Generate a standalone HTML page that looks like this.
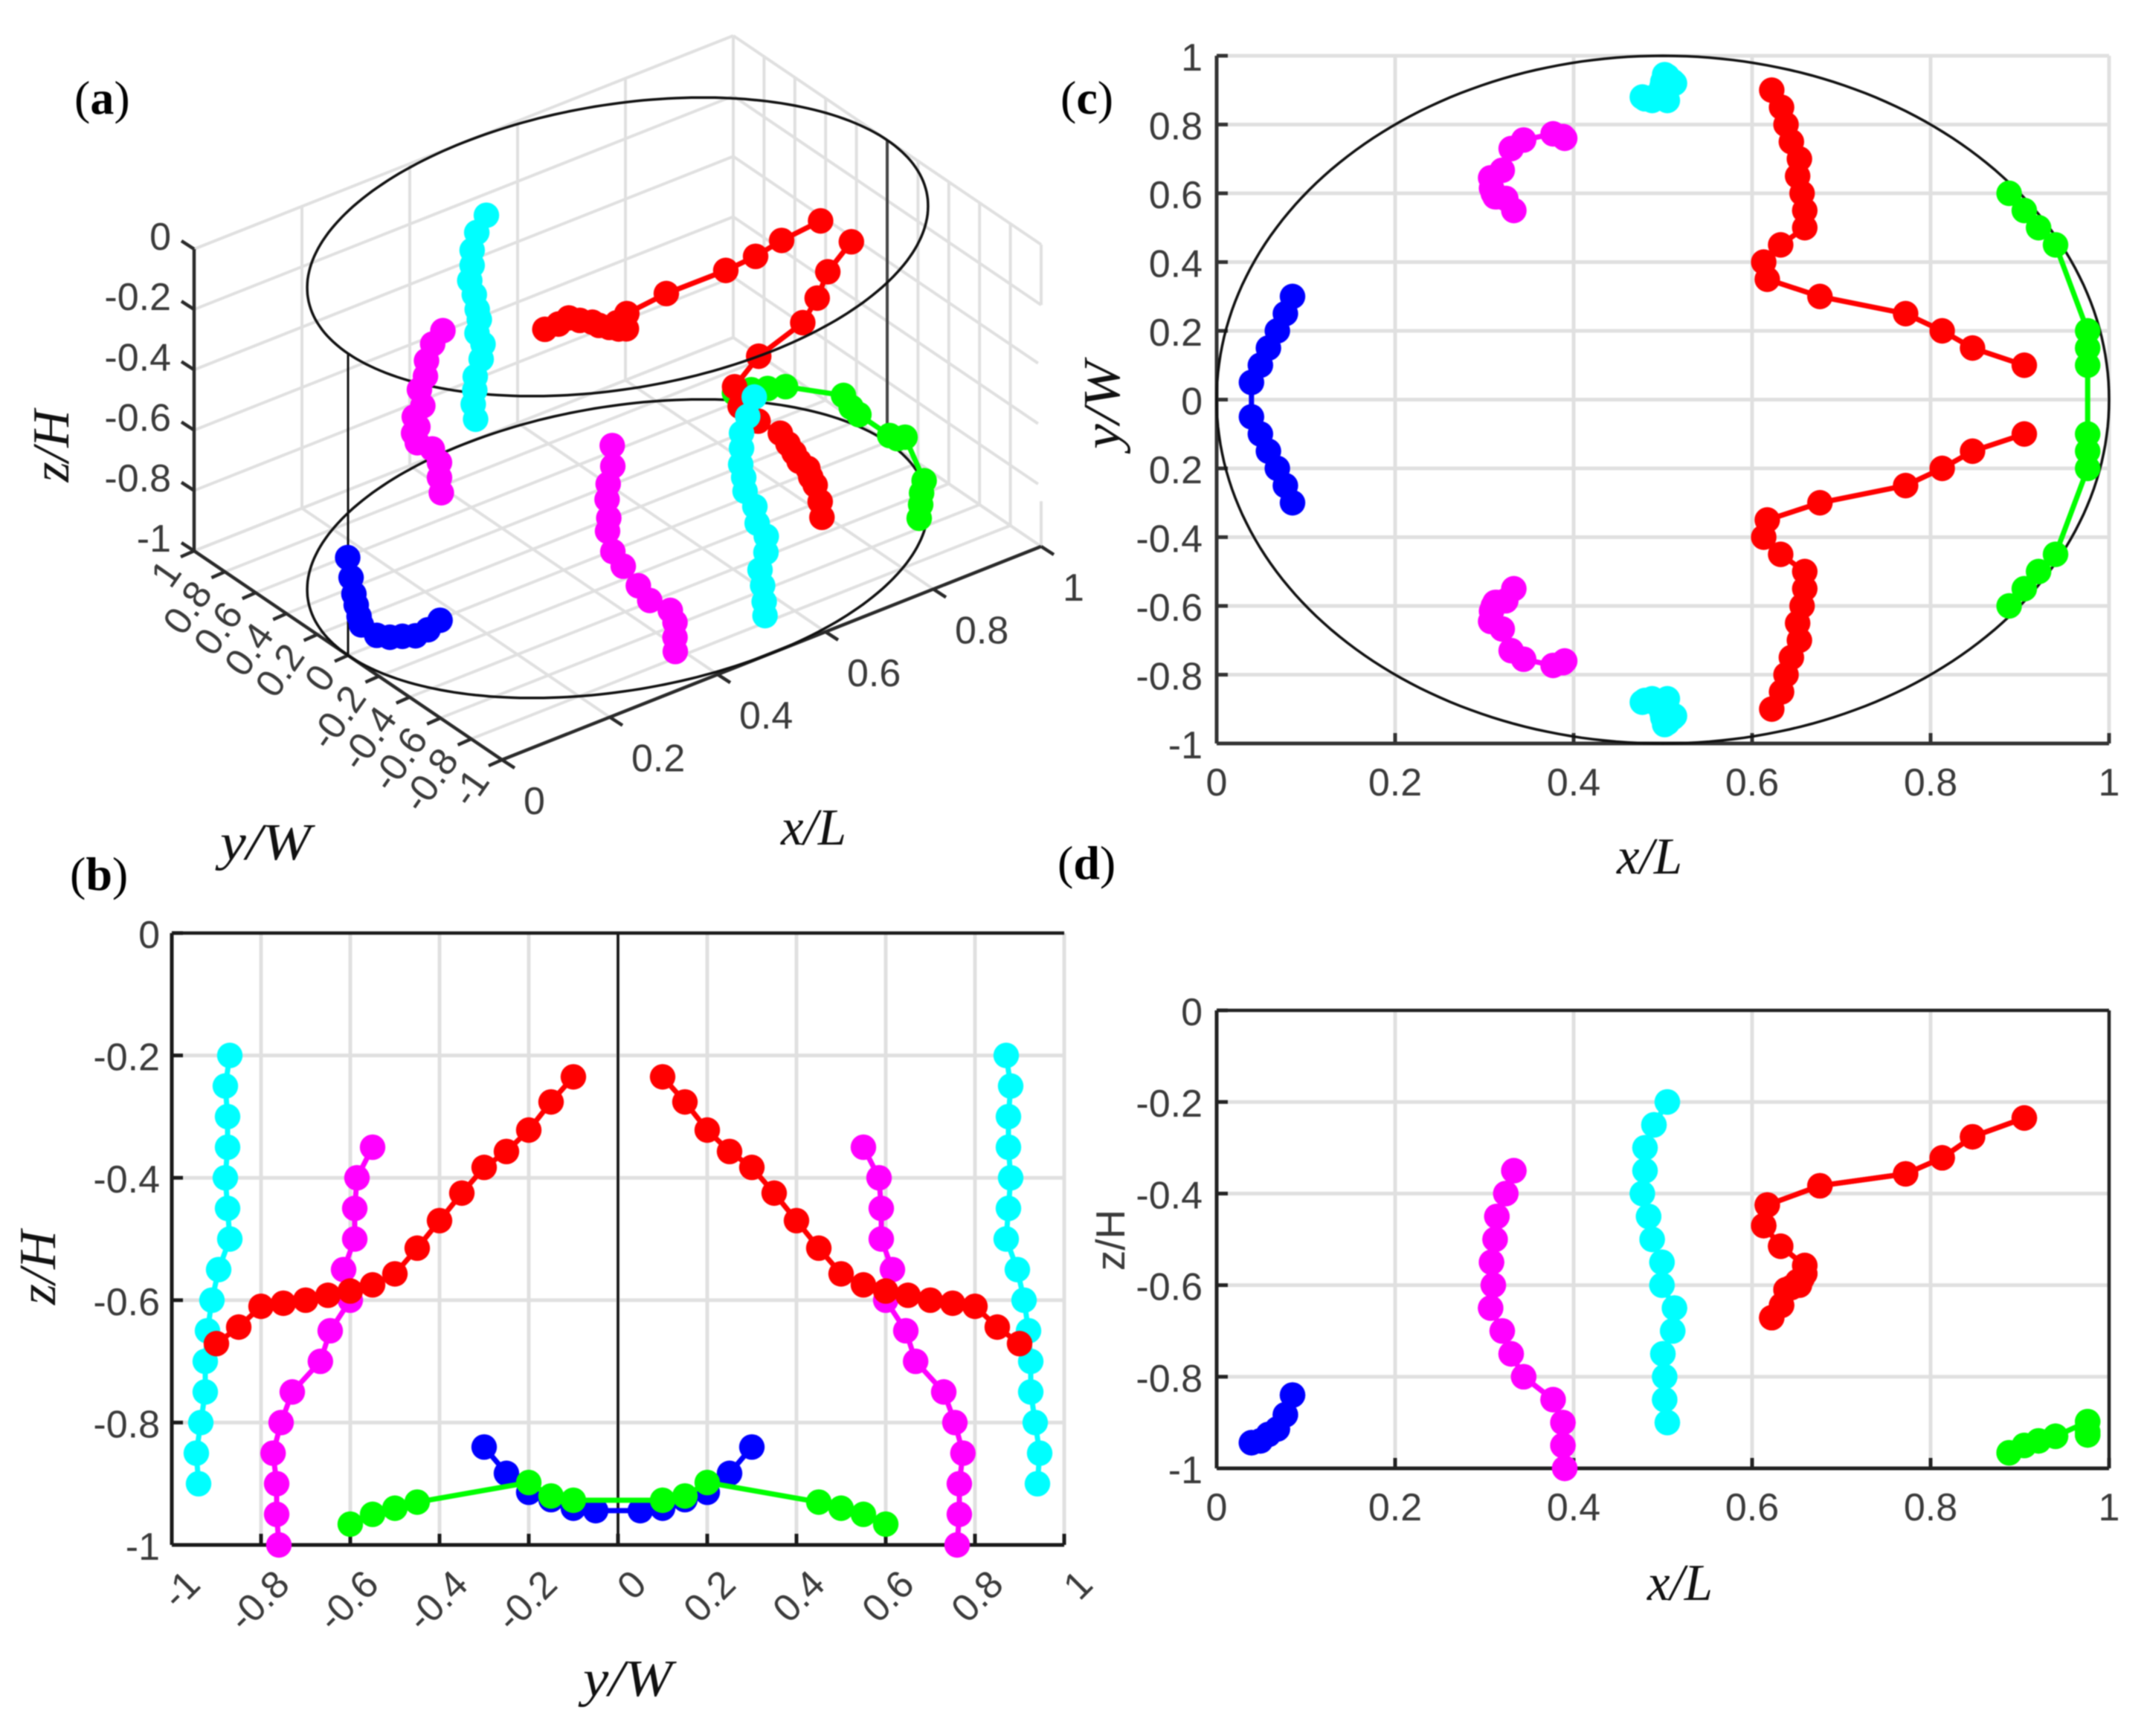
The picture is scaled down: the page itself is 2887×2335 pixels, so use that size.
<!DOCTYPE html>
<html lang="en">
<head>
<meta charset="utf-8">
<title>Particle positions in an elliptical tank</title>
<style>
html,body{margin:0;padding:0;background:#fff;width:2887px;height:2335px;overflow:hidden}
svg{display:block;filter:blur(0.9px)}
.tick{font-family:"Liberation Sans",sans-serif;font-size:52px;fill:#3a3a3a}
.axlab{font-family:"Liberation Serif",serif;font-style:italic;font-size:70px;fill:#111}
.panel{font-family:"Liberation Serif",serif;font-size:64px;fill:#000}
.panel tspan{font-weight:bold}
</style>
</head>
<body>
<svg id="chart" xmlns="http://www.w3.org/2000/svg" width="2887" height="2335" viewBox="0 0 2887 2335">
  <rect width="2887" height="2335" fill="#fff"/>
  <g id="pa"></g>
  <g id="pb"></g>
  <g id="pc"></g>
  <g id="pd"></g>

  <text class="panel" x="100" y="153">(<tspan>a</tspan>)</text>
  <text class="panel" x="94" y="1197">(<tspan>b</tspan>)</text>
  <text class="panel" x="1426" y="153">(<tspan>c</tspan>)</text>
  <text class="panel" x="1422" y="1182">(<tspan>d</tspan>)</text>

  <text class="axlab" text-anchor="middle" textLength="97" lengthAdjust="spacingAndGlyphs" transform="translate(92,600) rotate(-90)">z/H</text>
  <text class="axlab" text-anchor="middle" textLength="122" lengthAdjust="spacingAndGlyphs" x="357" y="1156">y/W</text>
  <text class="axlab" text-anchor="middle" textLength="88" lengthAdjust="spacingAndGlyphs" x="1094" y="1136">x/L</text>
  <text class="axlab" text-anchor="middle" textLength="100" lengthAdjust="spacingAndGlyphs" transform="translate(74,1705) rotate(-90)">z/H</text>
  <text class="axlab" text-anchor="middle" textLength="120" lengthAdjust="spacingAndGlyphs" x="844" y="2281">y/W</text>
  <text class="axlab" text-anchor="middle" textLength="88" lengthAdjust="spacingAndGlyphs" x="2218" y="1175">x/L</text>
  <text class="axlab" text-anchor="middle" textLength="118" lengthAdjust="spacingAndGlyphs" transform="translate(1505,545) rotate(-90)">y/W</text>
  <text class="axlab" text-anchor="middle" textLength="88" lengthAdjust="spacingAndGlyphs" x="2259" y="2152">x/L</text>
  <text class="tick" text-anchor="middle" style="font-size:55px" transform="translate(1512,1668) rotate(-90)">z/H</text>
</svg>

<script>
// ---- Series values (half of each symmetric strand: y > 0) ----
const redX = [0.905,0.847,0.813,0.772,0.676,0.617,0.613,0.632,0.659,0.659,0.656,0.651,0.653,0.644,0.638,0.633,0.622];
const redY = [0.10,0.15,0.20,0.25,0.30,0.35,0.40,0.45,0.50,0.55,0.60,0.65,0.70,0.75,0.80,0.85,0.90];
const redZ = [-0.235,-0.276,-0.322,-0.357,-0.383,-0.425,-0.47,-0.515,-0.557,-0.575,-0.585,-0.592,-0.60,-0.605,-0.61,-0.644,-0.671];

const cyanX = [0.505,0.49,0.48,0.48,0.477,0.484,0.488,0.499,0.499,0.513,0.511,0.50,0.502,0.502,0.505];
const cyanY = [0.87,0.88,0.875,0.875,0.88,0.875,0.87,0.895,0.91,0.92,0.925,0.925,0.935,0.945,0.94];
const cyanZ = [-0.20,-0.25,-0.30,-0.35,-0.40,-0.45,-0.50,-0.55,-0.60,-0.65,-0.70,-0.75,-0.80,-0.85,-0.90];

const magentaX = [0.333,0.324,0.314,0.312,0.308,0.31,0.307,0.32,0.33,0.344,0.377,0.388,0.388,0.39];
const magentaY = [0.55,0.585,0.59,0.59,0.615,0.60,0.645,0.667,0.73,0.755,0.773,0.765,0.765,0.76];
const magentaZ = [-0.35,-0.40,-0.45,-0.50,-0.55,-0.60,-0.65,-0.70,-0.75,-0.80,-0.85,-0.90,-0.95,-1.0];

const greenX = [0.888,0.905,0.921,0.94,0.976,0.976,0.976];
const greenY = [0.60,0.55,0.50,0.45,0.20,0.15,0.10];
const greenZ = [-0.966,-0.95,-0.94,-0.93,-0.898,-0.92,-0.927];

const blueX = [0.085,0.077,0.068,0.058,0.049,0.039];
const blueY = [0.30,0.25,0.20,0.15,0.10,0.05];
const blueZ = [-0.84,-0.883,-0.914,-0.926,-0.94,-0.944];

// ---- Tick values and labels ----
const xTicks = [0,0.2,0.4,0.6,0.8,1];
const xTickLabels = ['0','0.2','0.4','0.6','0.8','1'];
const zTicks = [0,-0.2,-0.4,-0.6,-0.8,-1];
const zTickLabels = ['0','-0.2','-0.4','-0.6','-0.8','-1'];
const yTicks = [1,0.8,0.6,0.4,0.2,0,-0.2,-0.4,-0.6,-0.8,-1];
const yTickLabels = ['1','0.8','0.6','0.4','0.2','0','-0.2','-0.4','-0.6','-0.8','-1'];
const yTickLabelsC = ['1','0.8','0.6','0.4','0.2','0','0.2','-0.4','-0.6','-0.8','-1'];

const NS = 'http://www.w3.org/2000/svg';
const COLORS = {red:'#ff0000',cyan:'#00ffff',magenta:'#ff00ff',green:'#00ff00',blue:'#0000ff'};
const GRID = '#e0e0e0', AXIS = '#2a2a2a', R = 17.2;

// ---- Axis functions ----
function cx(x){ return 1636 + 1200*x; }
function cy(y){ return 537.5 - 462.5*y; }
function dy(z){ return 1359 - 616*z; }
function by(y){ return 831 + 600*y; }
function bz(z){ return 1255 - 823*z; }
function proj(x,y,z){
  const n = (y+1)/2;
  return [675 + 725*x - 414*n, 1022 - 287*x - 281*n - 406*(z+1)];
}
const views = {
  a:p => proj(p[0],p[1],p[2]),
  b:p => [by(p[1]),bz(p[2])],
  c:p => [cx(p[0]),cy(p[1])],
  d:p => [cx(p[0]),dy(p[2])]
};

// ---- Drawing helpers ----
function drawLine(parent,a,b,stroke,w,name){
  const n = document.createElementNS(NS,'line');
  n.setAttribute('x1',a[0]); n.setAttribute('y1',a[1]);
  n.setAttribute('x2',b[0]); n.setAttribute('y2',b[1]);
  n.setAttribute('stroke',stroke); n.setAttribute('stroke-width',w);
  
  
  parent.appendChild(n);
}
function drawLabel(parent,x,y,str,anchor,rot,name){
  const t = document.createElementNS(NS,'text');
  t.setAttribute('class','tick');
  t.setAttribute('text-anchor',anchor);
  if(rot){
    t.setAttribute('transform','translate('+x+','+y+') rotate('+rot+')');
    t.setAttribute('dominant-baseline','central');
  } else {
    t.setAttribute('x',x); t.setAttribute('y',y);
  }
  t.textContent = str;
  
  
  parent.appendChild(t);
}
function drawCurve(parent,pts,stroke,w,name){
  const n = document.createElementNS(NS,'polyline');
  n.setAttribute('points',pts.map(p=>p[0].toFixed(1)+','+p[1].toFixed(1)).join(' '));
  n.setAttribute('fill','none');
  n.setAttribute('stroke',stroke); n.setAttribute('stroke-width',w);
  
  
  parent.appendChild(n);
}
function drawStrand(parent,data,view,color,name){
  const g = document.createElementNS(NS,'g');
  
  
  parent.appendChild(g);
  const pts = data.map(views[view]);
  drawCurve(g,pts,COLORS[color],7,name+'-line');
  pts.forEach(p=>{
    const c = document.createElementNS(NS,'circle');
    c.setAttribute('cx',p[0]); c.setAttribute('cy',p[1]); c.setAttribute('r',R);
    c.setAttribute('fill',COLORS[color]);
    
    
    g.appendChild(c);
  });
}
function zip(X,Y,Z,sign){ return X.map((x,i)=>[x,sign*Y[i],Z[i]]); }
function joined(X,Y,Z){
  return zip(X,Y,Z,1).concat(zip(X,Y,Z,-1).reverse());
}
function drawSeries(parent,view,key){
  if(key==='red'){ drawStrand(parent,zip(redX,redY,redZ,1),view,'red','red-series-upper'); drawStrand(parent,zip(redX,redY,redZ,-1),view,'red','red-series-lower'); }
  if(key==='cyan'){ drawStrand(parent,zip(cyanX,cyanY,cyanZ,1),view,'cyan','cyan-series-upper'); drawStrand(parent,zip(cyanX,cyanY,cyanZ,-1),view,'cyan','cyan-series-lower'); }
  if(key==='magenta'){ drawStrand(parent,zip(magentaX,magentaY,magentaZ,1),view,'magenta','magenta-series-upper'); drawStrand(parent,zip(magentaX,magentaY,magentaZ,-1),view,'magenta','magenta-series-lower'); }
  if(key==='green'){ drawStrand(parent,joined(greenX,greenY,greenZ),view,'green','green-series'); }
  if(key==='blue'){ drawStrand(parent,joined(blueX,blueY,blueZ),view,'blue','blue-series'); }
}
function ellipsePoints(fn){
  const out = [];
  for(let i=0;i<=240;i++){
    const t = i/240*2*Math.PI;
    out.push(fn(0.5+0.5*Math.cos(t),Math.sin(t)));
  }
  return out;
}

// ---- Panel A: 3D view ----
(function(){
  const g = document.getElementById('pa');
  // floor grid
  xTicks.forEach(t=>{ if(t>0) drawLine(g,proj(t,-1,-1),proj(t,1,-1),GRID,4,'a-floor-grid-x'); });
  yTicks.forEach(t=>drawLine(g,proj(0,t,-1),proj(1,t,-1),GRID,4,'a-floor-grid-y'));
  // left wall (y = 1)
  zTicks.forEach(t=>drawLine(g,proj(0,1,t),proj(1,1,t),GRID,4,'a-left-wall-grid-z'));
  xTicks.forEach(t=>{ if(t>0) drawLine(g,proj(t,1,-1),proj(t,1,0),GRID,4,'a-left-wall-grid-x'); });
  // right wall (x = 1)
  zTicks.forEach(t=>{
    const end = (t<-0.3 && t>-0.9) ? -0.98 : -1;
    drawLine(g,proj(1,end,t),proj(1,1,t),GRID,4,'a-right-wall-grid-z');
  });
  yTicks.forEach(t=>{
    if(t>-1){ drawLine(g,proj(1,t,-1),proj(1,t,0),GRID,4,'a-right-wall-grid-y'); }
    else {
      drawLine(g,proj(1,t,-0.2),proj(1,t,0),GRID,4,'a-right-wall-grid-y');
      drawLine(g,proj(1,t,-1),proj(1,t,-0.85),GRID,4,'a-right-wall-grid-y');
    }
  });
  // axes
  drawLine(g,proj(0,1,0),proj(0,1,-1),AXIS,4.5,'a-z-axis-line');
  drawLine(g,proj(0,1,-1),proj(0,-1,-1),AXIS,4.5,'a-y-axis-line');
  drawLine(g,proj(0,-1,-1),proj(1,-1,-1),AXIS,4.5,'a-x-axis-line');
  xTicks.forEach((t,i)=>{
    const p = proj(t,-1,-1);
    drawLine(g,p,[p[0]+17,p[1]+11],AXIS,4.5,'a-x-tick');
    drawLabel(g,p[0]+29,p[1]+73,xTickLabels[i],'start',0,'a-x-tick-label');
  });
  yTicks.forEach((t,i)=>{
    const p = proj(0,t,-1);
    drawLine(g,p,[p[0]-18,p[1]+8],AXIS,4.5,'a-y-tick');
    drawLabel(g,p[0]-29,p[1]+19,yTickLabels[i],'end',-55,'a-y-tick-label');
  });
  zTicks.forEach((t,i)=>{
    const p = proj(0,1,t);
    drawLine(g,p,[p[0]-17,p[1]-11],AXIS,4.5,'a-z-tick');
    drawLabel(g,230,p[1]+1,zTickLabels[i],'end',0,'a-z-tick-label');
  });
  // cylinder
  drawLine(g,proj(0,0,0),proj(0,0,-1),'#111',3,'a-cylinder-left-edge');
  drawLine(g,proj(1,0,0),proj(1,0,-0.94),'#444',4,'a-cylinder-right-edge');
  drawCurve(g,ellipsePoints((x,y)=>proj(x,y,-1)),'#111',3.5,'a-bottom-ellipse');
  drawSeries(g,'a','green');
  drawSeries(g,'a','red');
  drawCurve(g,ellipsePoints((x,y)=>proj(x,y,0)),'#111',3.5,'a-top-ellipse');
  drawSeries(g,'a','blue');
  drawSeries(g,'a','magenta');
  drawSeries(g,'a','cyan');
})();

// ---- Panel B: y-z ----
(function(){
  const g = document.getElementById('pb');
  yTicks.forEach(t=>drawLine(g,[by(t),bz(0)],[by(t),bz(-1)],GRID,5,'b-grid-vertical'));
  zTicks.forEach(t=>{ if(t<0 && t>-1) drawLine(g,[by(-1),bz(t)],[by(1),bz(t)],GRID,5,'b-grid-horizontal'); });
  drawLine(g,[by(0),bz(0)],[by(0),bz(-1)],'#111',3.5,'b-center-line');
  drawLine(g,[by(-1),bz(0)],[by(1),bz(0)],'#1a1a1a',4.5,'b-top-border');
  drawLine(g,[by(-1),bz(0)],[by(-1),bz(-1)],'#1a1a1a',5,'b-z-axis-line');
  drawLine(g,[by(-1),bz(-1)],[by(1),bz(-1)],'#1a1a1a',5,'b-y-axis-line');
  yTicks.forEach((t,i)=>{
    drawLine(g,[by(t),bz(-1)],[by(t),bz(-1)-15],'#1a1a1a',5,'b-y-tick');
    drawLabel(g,by(t)+29,bz(-1)+44,yTickLabels[i],'end',-45,'b-y-tick-label');
  });
  zTicks.forEach((t,i)=>{
    drawLine(g,[by(-1),bz(t)],[by(-1)+15,bz(t)],'#1a1a1a',5,'b-z-tick');
    drawLabel(g,215,bz(t)+20,zTickLabels[i],'end',0,'b-z-tick-label');
  });
  ['cyan','magenta','blue','red','green'].forEach(k=>drawSeries(g,'b',k));
})();

// ---- Panel C: x-y ----
(function(){
  const g = document.getElementById('pc');
  xTicks.forEach(t=>drawLine(g,[cx(t),cy(1)],[cx(t),cy(-1)],GRID,5,'c-grid-vertical'));
  yTicks.forEach(t=>drawLine(g,[cx(0),cy(t)],[cx(1),cy(t)],GRID,5,'c-grid-horizontal'));
  drawLine(g,[cx(0),cy(1)],[cx(0),cy(-1)],'#333',5,'c-y-axis-line');
  drawLine(g,[cx(0),cy(-1)],[cx(1),cy(-1)],'#333',5,'c-x-axis-line');
  xTicks.forEach((t,i)=>{
    drawLine(g,[cx(t),cy(-1)],[cx(t),cy(-1)-14],'#333',5,'c-x-tick');
    drawLabel(g,cx(t),1070,xTickLabels[i],'middle',0,'c-x-tick-label');
  });
  yTicks.forEach((t,i)=>{
    drawLine(g,[cx(0),cy(t)],[cx(0)+15,cy(t)],'#333',5,'c-y-tick');
    drawLabel(g,1617,cy(t)+20,yTickLabelsC[i],'end',0,'c-y-tick-label');
  });
  drawCurve(g,ellipsePoints((x,y)=>[cx(x),cy(y)]),'#111',3.5,'c-tank-ellipse');
  ['blue','magenta','cyan','red','green'].forEach(k=>drawSeries(g,'c',k));
})();

// ---- Panel D: x-z ----
(function(){
  const g = document.getElementById('pd');
  xTicks.forEach(t=>{ if(t>0 && t<1) drawLine(g,[cx(t),dy(0)],[cx(t),dy(-1)],GRID,5,'d-grid-vertical'); });
  zTicks.forEach(t=>{ if(t<0 && t>-1) drawLine(g,[cx(0),dy(t)],[cx(1),dy(t)],GRID,5,'d-grid-horizontal'); });
  drawLine(g,[cx(0),dy(0)],[cx(1),dy(0)],'#222',4.5,'d-top-border');
  drawLine(g,[cx(1),dy(0)],[cx(1),dy(-1)],'#222',4.5,'d-right-border');
  drawLine(g,[cx(0),dy(0)],[cx(0),dy(-1)],'#222',5,'d-z-axis-line');
  drawLine(g,[cx(0),dy(-1)],[cx(1),dy(-1)],'#222',5,'d-x-axis-line');
  xTicks.forEach((t,i)=>{
    drawLine(g,[cx(t),dy(-1)],[cx(t),dy(-1)-14],'#222',5,'d-x-tick');
    drawLabel(g,cx(t),2045,xTickLabels[i],'middle',0,'d-x-tick-label');
  });
  zTicks.forEach((t,i)=>{
    drawLine(g,[cx(0),dy(t)],[cx(0)+15,dy(t)],'#222',5,'d-z-tick');
    drawLabel(g,1617,dy(t)+20,zTickLabels[i],'end',0,'d-z-tick-label');
  });
  ['blue','magenta','cyan','red','green'].forEach(k=>drawSeries(g,'d',k));
})();
</script>
</body>
</html>
